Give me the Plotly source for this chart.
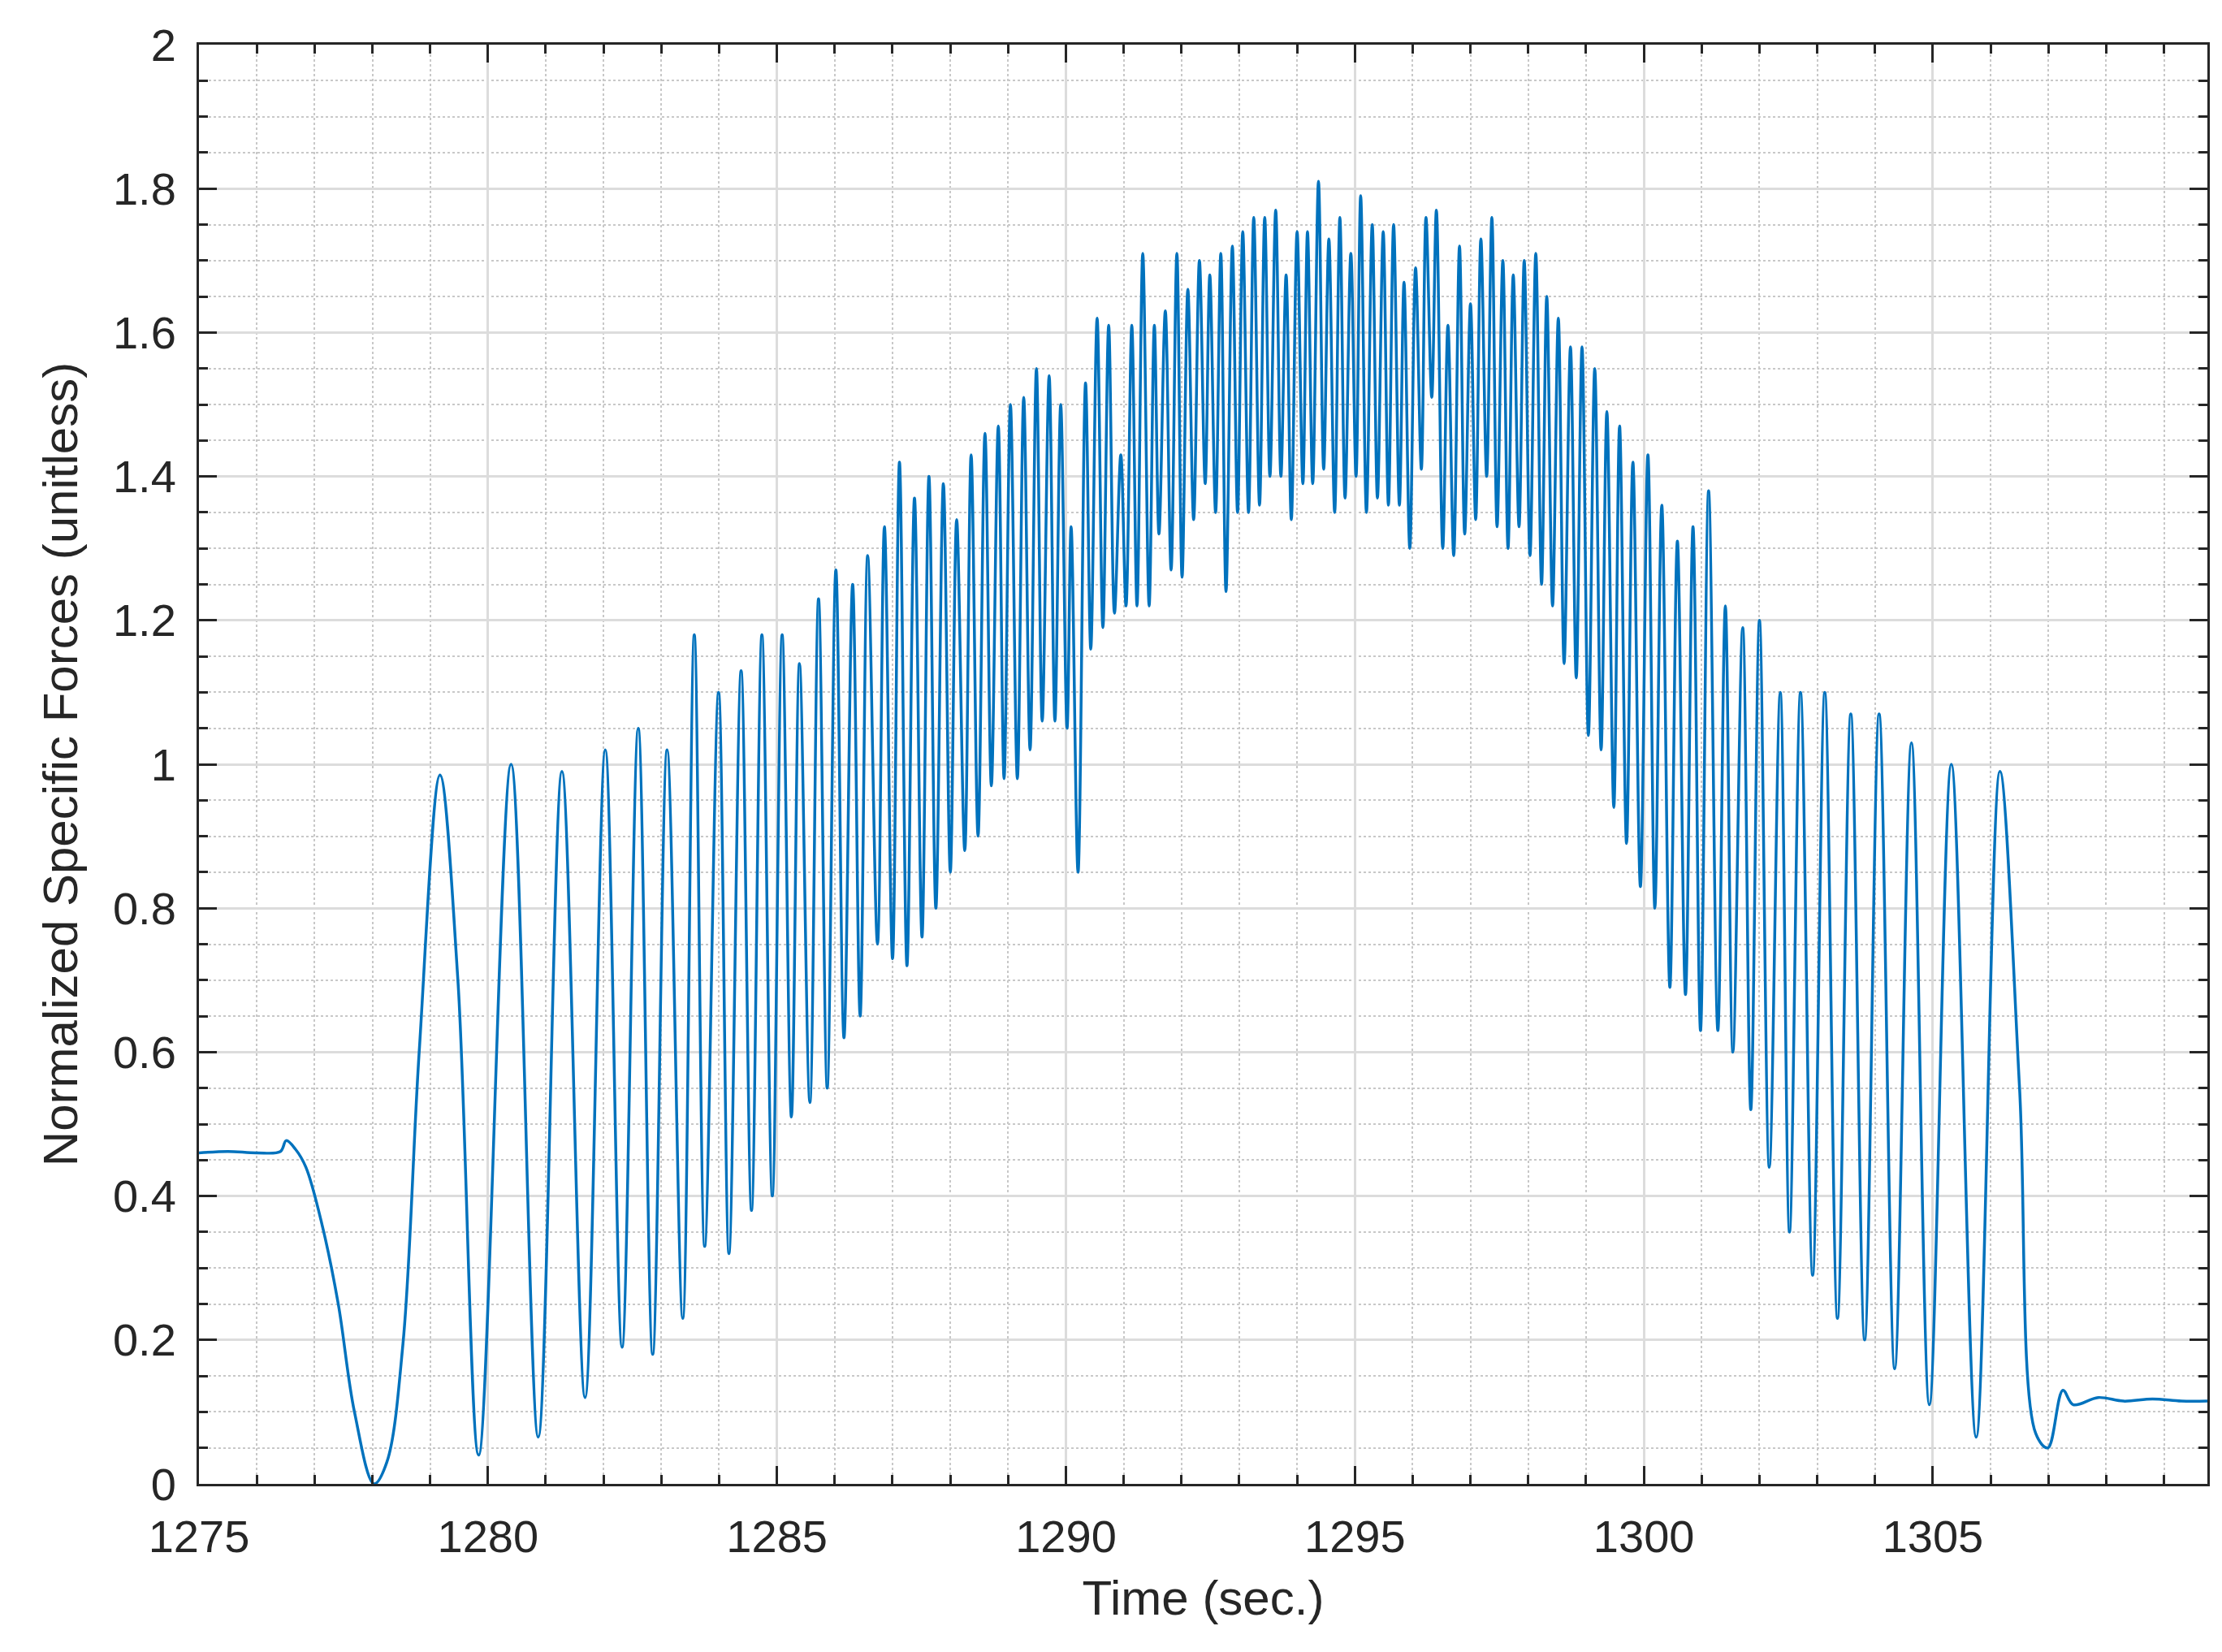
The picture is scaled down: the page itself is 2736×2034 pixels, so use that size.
import plotly.graph_objects as go

# Extrema / key points of the signal
time_s = [1275.0, 1275.5, 1276.0, 1276.41, 1276.51, 1276.67, 1276.85, 1277.13, 1277.41, 1277.69, 1278.03, 1278.25,
          1278.53, 1278.81, 1279.17, 1279.48, 1279.84, 1280.40, 1280.87, 1281.28, 1281.68, 1282.03, 1282.32, 1282.60,
          1282.85, 1283.10, 1283.37, 1283.57, 1283.75, 1283.99, 1284.17, 1284.38, 1284.56, 1284.74, 1284.92, 1285.09,
          1285.25, 1285.39, 1285.57, 1285.72, 1285.87, 1286.02, 1286.16, 1286.31, 1286.44, 1286.57, 1286.74, 1286.86,
          1287.00, 1287.12, 1287.25, 1287.38, 1287.51, 1287.63, 1287.75, 1287.88, 1288.00, 1288.11, 1288.25, 1288.36,
          1288.48, 1288.60, 1288.71, 1288.83, 1288.93, 1289.04, 1289.16, 1289.27, 1289.38, 1289.49, 1289.59, 1289.71,
          1289.81, 1289.91, 1290.02, 1290.09, 1290.21, 1290.34, 1290.43, 1290.54, 1290.64, 1290.74, 1290.84, 1290.95,
          1291.04, 1291.14, 1291.23, 1291.33, 1291.44, 1291.53, 1291.61, 1291.72, 1291.82, 1291.92, 1292.01, 1292.11,
          1292.21, 1292.31, 1292.41, 1292.49, 1292.59, 1292.68, 1292.77, 1292.88, 1292.97, 1293.06, 1293.16, 1293.25,
          1293.35, 1293.44, 1293.53, 1293.63, 1293.72, 1293.81, 1293.90, 1294.00, 1294.10, 1294.18, 1294.27, 1294.37,
          1294.46, 1294.55, 1294.65, 1294.74, 1294.83, 1294.93, 1295.02, 1295.10, 1295.20, 1295.30, 1295.39, 1295.49,
          1295.58, 1295.67, 1295.77, 1295.85, 1295.95, 1296.05, 1296.15, 1296.23, 1296.33, 1296.41, 1296.52, 1296.61,
          1296.71, 1296.81, 1296.90, 1297.00, 1297.09, 1297.18, 1297.28, 1297.37, 1297.46, 1297.56, 1297.65, 1297.74,
          1297.84, 1297.93, 1298.03, 1298.13, 1298.23, 1298.32, 1298.42, 1298.52, 1298.62, 1298.73, 1298.83, 1298.93,
          1299.04, 1299.15, 1299.26, 1299.36, 1299.48, 1299.58, 1299.70, 1299.81, 1299.94, 1300.07, 1300.19, 1300.31,
          1300.45, 1300.58, 1300.72, 1300.85, 1300.98, 1301.12, 1301.28, 1301.41, 1301.54, 1301.71, 1301.85, 1302.00,
          1302.17, 1302.36, 1302.52, 1302.71, 1302.92, 1303.13, 1303.35, 1303.58, 1303.82, 1304.07, 1304.34, 1304.63,
          1304.94, 1305.32, 1305.75, 1306.16, 1306.50, 1306.78, 1306.99, 1307.25, 1307.43, 1307.86, 1308.3, 1308.8,
          1309.3, 1309.75]
force = [0.46, 0.462, 0.46, 0.462, 0.477, 0.465, 0.44, 0.36, 0.25, 0.10, 0.0, 0.03,
         0.195, 0.60, 0.985, 0.70, 0.04, 1.00, 0.065, 0.99, 0.12, 1.02, 0.19, 1.05,
         0.18, 1.02, 0.23, 1.18, 0.33, 1.10, 0.32, 1.13, 0.38, 1.18, 0.40, 1.18,
         0.51, 1.14, 0.53, 1.23, 0.55, 1.27, 0.62, 1.25, 0.65, 1.29, 0.75, 1.33,
         0.73, 1.42, 0.72, 1.37, 0.76, 1.40, 0.80, 1.39, 0.85, 1.34, 0.88, 1.43,
         0.90, 1.46, 0.97, 1.47, 0.98, 1.50, 0.98, 1.51, 1.02, 1.55, 1.06, 1.54,
         1.06, 1.50, 1.05, 1.33, 0.85, 1.53, 1.16, 1.62, 1.19, 1.61, 1.21, 1.43,
         1.22, 1.61, 1.22, 1.71, 1.22, 1.61, 1.32, 1.63, 1.27, 1.71, 1.26, 1.66,
         1.34, 1.70, 1.39, 1.68, 1.35, 1.71, 1.24, 1.72, 1.35, 1.74, 1.35, 1.76,
         1.36, 1.76, 1.40, 1.77, 1.40, 1.68, 1.34, 1.74, 1.39, 1.74, 1.39, 1.81,
         1.41, 1.73, 1.35, 1.76, 1.37, 1.71, 1.40, 1.79, 1.35, 1.75, 1.37, 1.74,
         1.36, 1.75, 1.36, 1.67, 1.30, 1.69, 1.41, 1.76, 1.51, 1.77, 1.30, 1.61,
         1.29, 1.72, 1.32, 1.64, 1.34, 1.73, 1.40, 1.76, 1.33, 1.70, 1.30, 1.68,
         1.33, 1.70, 1.29, 1.71, 1.25, 1.65, 1.22, 1.62, 1.14, 1.58, 1.12, 1.58,
         1.04, 1.55, 1.02, 1.49, 0.94, 1.47, 0.89, 1.42, 0.83, 1.43, 0.80, 1.36,
         0.69, 1.31, 0.68, 1.33, 0.63, 1.38, 0.63, 1.22, 0.60, 1.19, 0.52, 1.20,
         0.44, 1.10, 0.35, 1.10, 0.29, 1.10, 0.23, 1.07, 0.20, 1.07, 0.16, 1.03,
         0.11, 1.00, 0.065, 0.99, 0.55, 0.07, 0.05, 0.13, 0.11, 0.12, 0.115, 0.118,
         0.115, 0.115]

x_ticks = [1275, 1280, 1285, 1290, 1295, 1300, 1305]
y_ticks = [0, 0.2, 0.4, 0.6, 0.8, 1.0, 1.2, 1.4, 1.6, 1.8, 2.0]
y_labels = ["0", "0.2", "0.4", "0.6", "0.8", "1", "1.2", "1.4", "1.6", "1.8", "2"]

fig = go.Figure()
fig.add_trace(go.Scatter(x=time_s, y=force, mode="lines",
                         line=dict(color="#0072BD", width=3.5, shape="spline", smoothing=1.0)))

axis_common = dict(showline=True, linecolor="#262626", linewidth=3, mirror="ticks",
                   ticks="inside", ticklen=22, tickwidth=3, tickcolor="#262626",
                   gridcolor="#DCDCDC", gridwidth=2.5, zeroline=False, ticklabelstandoff=14,
                   tickfont=dict(size=56, color="#262626"))
fig.update_xaxes(range=[1275, 1309.75], tickvals=x_ticks, **axis_common,
                 minor=dict(dtick=1, showgrid=True, gridcolor="#C8C8C8", griddash="dot", gridwidth=2,
                            ticks="inside", ticklen=11, tickcolor="#262626"),
                 title=dict(text="Time (sec.)", font=dict(size=60, color="#262626"), standoff=24))
fig.update_yaxes(range=[0, 2], tickvals=y_ticks, ticktext=y_labels, **axis_common,
                 minor=dict(dtick=0.05, showgrid=True, gridcolor="#C8C8C8", griddash="dot", gridwidth=2,
                            ticks="inside", ticklen=11, tickcolor="#262626"),
                 title=dict(text="Normalized Specific Forces (unitless)", font=dict(size=60, color="#262626"),
                            standoff=24))
fig.update_layout(width=2736, height=2034, margin=dict(l=237, r=26, t=47, b=215),
                  plot_bgcolor="white", paper_bgcolor="white", showlegend=False,
                  font=dict(family="Liberation Sans, Arial, sans-serif"))
fig.write_html("out.html")
